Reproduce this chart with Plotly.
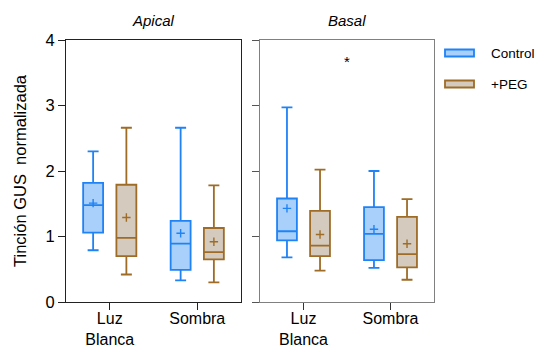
import plotly.graph_objects as go
from plotly.subplots import make_subplots

categories = ["Luz<br>Blanca", "Sombra"]
panels = ["Apical", "Basal"]
groups = ["Control", "+PEG"]

# Apical panel: [Luz Blanca, Sombra]
apical_ctrl = dict(low=[0.79, 0.33], q1=[1.06, 0.49], med=[1.48, 0.89], q3=[1.82, 1.24], high=[2.30, 2.66], mean=[1.51, 1.05])
apical_peg = dict(low=[0.42, 0.30], q1=[0.70, 0.65], med=[0.98, 0.76], q3=[1.79, 1.13], high=[2.66, 1.78], mean=[1.29, 0.92])
# Basal panel
basal_ctrl = dict(low=[0.68, 0.52], q1=[0.94, 0.64], med=[1.08, 1.04], q3=[1.58, 1.45], high=[2.97, 2.00], mean=[1.43, 1.11])
basal_peg = dict(low=[0.48, 0.34], q1=[0.70, 0.53], med=[0.86, 0.73], q3=[1.39, 1.30], high=[2.02, 1.57], mean=[1.03, 0.89])

y_ticks = [0, 1, 2, 3, 4]
sig_text = "*"
sig_y = 3.67

line_colors = {"Control": "#1f82f5", "+PEG": "#9e6c27"}
fill_colors = {"Control": "#a9d0fb", "+PEG": "#d4cabe"}

FONT = "Liberation Sans, Arial, sans-serif"

fig = make_subplots(rows=1, cols=2)

data = {"Apical": {"Control": apical_ctrl, "+PEG": apical_peg},
        "Basal": {"Control": basal_ctrl, "+PEG": basal_peg}}

for ci, panel in enumerate(panels):
    for g in groups:
        d = data[panel][g]
        fig.add_trace(go.Box(
            x=categories, q1=d["q1"], median=d["med"], q3=d["q3"],
            lowerfence=d["low"], upperfence=d["high"],
            name=g, offsetgroup=g, alignmentgroup="a",
            fillcolor=fill_colors[g], line=dict(color=line_colors[g], width=1.8),
            whiskerwidth=0.55, showlegend=False, hoverinfo="skip",
        ), row=1, col=ci + 1)
        fig.add_trace(go.Scatter(
            x=categories, y=d["mean"], mode="markers", orientation="v",
            offsetgroup=g, alignmentgroup="a", name=g + " media",
            marker=dict(symbol="cross-thin", size=6, line=dict(color=line_colors[g], width=1.4)),
            showlegend=False, hoverinfo="skip",
        ), row=1, col=ci + 1)

W, H = 535, 347
def px_x(p): return p / W
def px_y(p): return 1 - p / H

fig.update_layout(
    width=W, height=H, margin=dict(l=0, r=0, t=0, b=0, autoexpand=False),
    paper_bgcolor="white", plot_bgcolor="white",
    boxmode="group", boxgap=0.24, boxgroupgap=0.4,
    scattermode="group", scattergap=0.24,
    font=dict(family=FONT, color="black"),
)

common_x = dict(type="category", range=[-0.5, 1.5], showline=True, mirror=True, ticks="outside",
                ticklen=7, tickwidth=1.2, showgrid=False, zeroline=False, automargin=False,
                ticklabelstandoff=-5,
                tickfont=dict(size=16, family=FONT, color="black"))
fig.update_xaxes(common_x)
fig.update_yaxes(dict(range=[0, 4], tickvals=y_ticks, showline=True, mirror=True, ticks="outside",
                      ticklen=7, tickwidth=1.2, showgrid=False, zeroline=False, automargin=False,
                      tickfont=dict(size=16.5, family=FONT, color="black")))

fig.update_layout(
    xaxis=dict(domain=[px_x(66), px_x(241)], linecolor="#222", tickcolor="#222"),
    xaxis2=dict(domain=[px_x(260), px_x(434)], linecolor="#808080", tickcolor="#333"),
    yaxis=dict(domain=[px_y(302), px_y(40)], linecolor="#222", tickcolor="#222",
               title=dict(text="Tinción GUS  normalizada", font=dict(size=16.5, family=FONT), standoff=14)),
    yaxis2=dict(domain=[px_y(302), px_y(40)], linecolor="#808080", tickcolor="#555",
                showticklabels=False),
)

# panel titles
for ci, panel in enumerate(panels):
    xr = "x domain" if ci == 0 else "x2 domain"
    fig.add_annotation(text="<i>" + panel + "</i>", xref=xr, yref="paper", x=0.5, y=px_y(21),
                       showarrow=False, font=dict(size=15, family=FONT, color="black"),
                       xanchor="center", yanchor="middle")

# significance marker
fig.add_annotation(text=sig_text, xref="x2", yref="y2", x=0.5, y=sig_y, showarrow=False,
                   font=dict(size=15, family=FONT, color="black"), yanchor="middle")

# legend
legend_y = [53, 84]
for g, yy in zip(groups, legend_y):
    fig.add_shape(type="rect", xref="paper", yref="paper",
                  x0=px_x(445), x1=px_x(474), y0=px_y(yy + 3.5), y1=px_y(yy - 3.5),
                  fillcolor=fill_colors[g], line=dict(color=line_colors[g], width=1.8))
    fig.add_annotation(text=g, xref="paper", yref="paper", x=px_x(489), y=px_y(yy),
                       xanchor="left", yanchor="middle", showarrow=False,
                       font=dict(size=13.5, family=FONT, color="black"))

fig.write_html("out.html")
